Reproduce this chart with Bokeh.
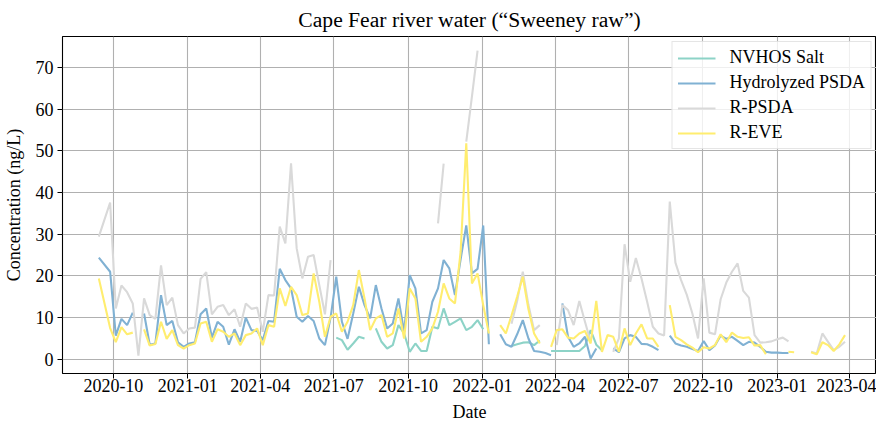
import numpy as np
import pandas as pd
from bokeh.plotting import figure
from bokeh.models import (Legend, LegendItem, FixedTicker, DatetimeTickFormatter,
                          Range1d, SingleIntervalTicker)
from bokeh.embed import file_html
from bokeh.resources import INLINE

# weekly sampling dates (second week missing)
sample_dates = pd.date_range("2020-09-13", "2023-03-26", freq="7D").delete(1)

N = None
nvhos_salt = [
    N, N, N, N, N, N, N, N, N, N,
    N, N, N, N, N, N, N, N, N, N,
    N, N, N, N, N, N, N, N, N, N,
    N, N, N, N, N, N, N, N, N, N,
    N, 5.2, 4.6, 2.3, 3.8, 5.4, 5.0, N, 7.4, 4.2,
    2.6, 3.4, 8.2, 6.2, 1.8, 3.8, 2.0, 2.0, 7.8, 7.4,
    12.2, 8.2, 9.0, 9.8, 7.0, 7.8, 9.4, 7.2, N, N,
    N, N, 3.2, 3.6, 4.0, 4.1, 3.4, 4.5, N, 2.0,
    2.0, 2.0, 2.0, 2.0, 2.0, 3.2, 7.0, 3.5, 2.2, N,
    N, N, N, N, N, N, N, N, N, N,
    N, N, N, N, N, N, N, N, N, N,
    N, N, N, N, N, N, N, N, N, N,
    N, N, N, N, N, N, N, N, N, N,
    N, N,
]
hydrolyzed_psda = [
    24.4, 21.0, 5.7, 9.7, 8.2, 11.2, N, 11.0, 3.5, 3.8,
    15.4, 8.2, 9.2, 4.1, 3.0, 3.8, 4.1, 10.8, 12.2, 5.2,
    9.0, 7.8, 3.5, 7.2, 4.2, 10.0, 7.0, 6.8, 4.6, 9.2,
    9.0, 21.7, 19.0, 17.0, 10.2, 9.0, 10.4, 9.2, 5.0, 3.4,
    10.0, 19.8, 9.0, 4.9, 11.0, 17.4, 13.0, 9.8, 17.8, 12.2,
    7.4, 8.6, 14.6, 6.6, 20.2, 17.0, 6.2, 7.0, 13.8, 17.0,
    23.8, 21.8, 15.4, 24.0, 32.1, 20.6, 21.7, 32.1, 3.6, N,
    6.0, 3.6, 3.0, 6.0, 9.4, 5.0, 2.0, 1.8, 1.5, 1.0,
    N, 13.4, 5.4, 3.0, 3.8, 5.4, 0.2, 2.6, N, N,
    2.6, 1.7, 5.0, 5.8, 5.4, 3.7, 3.6, 3.0, 2.2, N,
    5.7, 3.8, 3.3, 3.0, 2.5, 2.0, 4.4, 2.2, 3.3, 5.7,
    4.9, 5.4, 4.4, 3.4, 4.2, 4.0, 3.0, 1.8, 1.6, 1.6,
    1.5, 1.5, N, N, N, N, N, N, N, N,
    N, N,
]
r_psda = [
    29.4, 37.6, 12.2, 17.7, 16.1, 13.4, 0.9, 14.6, 10.6, 9.7,
    22.5, 13.0, 14.8, 8.2, 6.2, 7.4, 7.6, 19.3, 20.9, 10.8,
    12.6, 13.0, 10.6, 12.0, 7.8, 13.4, 12.1, 12.4, 6.6, 15.4,
    15.3, 31.8, 27.8, 47.0, 26.6, 19.4, 24.6, 25.0, 17.8, 10.8,
    23.8, N, N, N, N, N, N, N, N, N,
    N, N, N, N, N, N, N, N, N, 32.6,
    46.9, N, N, N, 52.2, 63.0, 74.0, N, N, N,
    N, N, 8.5, 14.0, 21.0, 13.0, 7.0, 8.2, N, N,
    3.4, 13.0, 11.8, 8.2, 14.0, 9.0, 4.2, N, N, N,
    1.8, 5.0, 27.6, 18.6, 24.3, 19.4, 13.8, 7.8, 6.2, 5.7,
    37.8, 23.2, 19.0, 15.5, 11.0, 5.0, 19.4, 6.4, 6.0, 14.4,
    18.4, 21.0, 23.0, 16.4, 14.8, 5.8, 4.0, 4.1, 4.3, 4.8,
    5.2, 4.3, N, N, N, 1.8, 1.4, 6.2, 4.2, 2.2,
    3.0, 4.2,
]
r_eve = [
    19.4, 7.5, 4.1, 7.7, 6.0, 6.4, N, 7.2, 3.3, 3.7,
    9.0, 4.9, 7.0, 3.4, 2.6, 3.4, 3.8, 8.6, 9.0, 4.2,
    7.2, 6.6, 5.4, 6.2, 3.4, 5.8, 6.2, 7.4, 3.4, 8.2,
    7.8, 17.0, 12.8, 17.4, 15.4, 10.6, 11.0, 20.6, 13.8, 5.4,
    10.2, 11.0, 6.6, 9.0, 13.0, 21.4, 14.6, 7.0, 9.8, 10.6,
    5.4, 6.2, 12.2, 5.0, 17.0, 14.6, 4.2, 5.4, 7.4, 11.4,
    18.2, 14.6, 13.4, 25.8, 51.8, 18.2, 20.6, 13.0, 6.2, N,
    8.2, 6.2, 10.5, 15.0, 19.8, 12.0, 6.2, 3.8, N, 3.0,
    7.0, 7.2, 5.2, 5.0, 6.2, 6.8, 3.8, 14.0, 1.8, 5.8,
    5.4, 1.8, 7.4, 3.4, 6.2, 8.4, 5.0, 5.0, 3.0, N,
    13.0, 5.4, 4.6, 3.6, 2.8, 1.7, 2.9, 2.6, 3.4, 6.0,
    4.1, 6.4, 5.4, 5.1, 5.3, 3.3, 3.4, 1.2, N, N,
    N, 1.8, 1.7, N, N, 1.7, 1.2, 4.1, 3.4, 2.0,
    3.6, 5.8,
]

series_names = ["NVHOS Salt", "Hydrolyzed PSDA", "R-PSDA", "R-EVE"]
series_values = [nvhos_salt, hydrolyzed_psda, r_psda, r_eve]
series_colors = ["#8dd3c7", "#80b1d3", "#d9d9d9", "#ffed6f"]

tick_dates = ["2020-10-01", "2021-01-01", "2021-04-01", "2021-07-01", "2021-10-01",
              "2022-01-01", "2022-04-01", "2022-07-01", "2022-10-01", "2023-01-01",
              "2023-04-01"]

FONT = "Liberation Serif"

def ms(d):
    return pd.Timestamp(d).value / 1e6

X0, X1 = ms("2020-07-30"), ms("2023-05-04")
Y0, Y1 = -3.4, 77.4
p = figure(frame_width=814, frame_height=337, x_axis_type="datetime",
           output_backend="svg", toolbar_location=None,
           x_range=Range1d(X0, X1), y_range=Range1d(Y0, Y1),
           min_border_left=58, min_border_right=0, min_border_top=27,
           min_border_bottom=44)

p.title.text = "Cape Fear river water (\u201cSweeney raw\u201d)"
p.title.align = "center"
p.title.text_font = FONT
p.title.text_font_size = "21.6px"
p.title.text_font_style = "normal"
p.title.text_color = "black"

p.outline_line_color = "black"
p.outline_line_width = 1.1
p.background_fill_color = "white"
p.border_fill_color = "white"

for ax in (p.xaxis[0], p.yaxis[0]):
    ax.axis_line_color = None
    ax.major_tick_line_color = "black"
    ax.major_tick_out = 5
    ax.major_tick_in = 0
    ax.minor_tick_line_color = None
    ax.major_label_text_font = FONT
    ax.major_label_text_font_size = "18px"
    ax.major_label_text_color = "black"
    ax.axis_label_text_font = FONT
    ax.axis_label_text_font_size = "18px"
    ax.axis_label_text_font_style = "normal"
    ax.axis_label_text_color = "black"

p.xaxis.ticker = FixedTicker(ticks=[ms(d) for d in tick_dates])
p.xaxis.formatter = DatetimeTickFormatter(
    years="%Y-%m", months="%Y-%m", days="%Y-%m", hours="%Y-%m",
    hourmin="%Y-%m", minutes="%Y-%m", minsec="%Y-%m", seconds="%Y-%m",
    milliseconds="%Y-%m", microseconds="%Y-%m")
p.xaxis.axis_label = "Date"
p.xaxis.major_label_standoff = 0
p.xaxis.axis_label_standoff = 7
p.yaxis.ticker = SingleIntervalTicker(interval=10)
p.yaxis.axis_label = "Concentration (ng/L)"
p.yaxis.major_label_standoff = 4
p.yaxis.axis_label_standoff = 9

p.grid.grid_line_color = "#b0b0b0"
p.grid.grid_line_width = 1.1

items = []
for name, vals, col in zip(series_names, series_values, series_colors):
    y = np.array([np.nan if v is None else v for v in vals], dtype=float)
    r = p.line(sample_dates, y, line_color=col, line_width=2.1)
    items.append(LegendItem(label=name, renderers=[r]))

legend = Legend(items=items, location="top_right")
legend.label_text_font = FONT
legend.label_text_font_size = "18px"
legend.label_text_color = "black"
legend.glyph_width = 38
legend.glyph_height = 20
legend.label_height = 20
legend.label_standoff = 14
legend.spacing = 4
legend.padding = 5
legend.margin = 5
legend.border_line_color = "#cccccc"
legend.border_line_width = 1
legend.background_fill_alpha = 0.8
p.add_layout(legend)

open("out.html", "w").write(file_html(p, INLINE))
